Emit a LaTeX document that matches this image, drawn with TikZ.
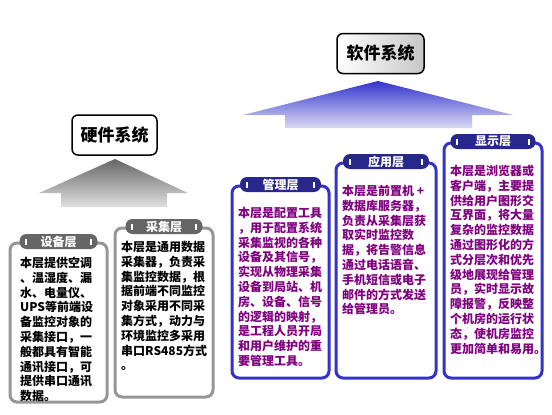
\documentclass[tikz,border=0pt]{standalone}
\usepackage{fontspec}
\newfontfamily\cjk{Noto Sans CJK SC}
\definecolor{hwgrey}{RGB}{150,150,150}
\definecolor{swblue}{RGB}{51,51,204}
\definecolor{tabblue}{RGB}{40,40,140}
\definecolor{txtpurple}{RGB}{128,0,128}
\begin{document}
\begin{tikzpicture}[x=1pt, y=-1pt,
    title/.style={draw, line width=1.5pt, rounded corners=6pt, minimum width=85pt,
      minimum height=40pt, font=\cjk\bfseries\fontsize{17}{17}\selectfont},
    layer/.style={rounded corners=7pt, line width=3pt, fill=white},
    hwlayer/.style={layer, draw=hwgrey},
    swlayer/.style={layer, draw=swblue},
    tab/.style={rounded corners=7pt, minimum height=15pt, inner sep=0pt, text=white,
      font=\cjk\bfseries\fontsize{12}{12}\selectfont},
    hwtab/.style={tab, fill=black!60},
    swtab/.style={tab, fill=tabblue},
    body/.style={anchor=north west, align=left, inner sep=0pt,
      font=\cjk\bfseries\fontsize{12}{14.8}\selectfont}]
  \useasboundingbox (0,0) rectangle (552,415);
  \shade[top color=black!60, bottom color=black!12]
    (115,159) -- (188,193) -- (167,193) -- (167,207) -- (61,207) -- (61,193) -- (39,193) -- cycle;
  \shade[top color=swblue, bottom color=swblue!18]
    (378,81) -- (513,115) -- (472,115) -- (472,128) -- (285,128) -- (285,115) -- (243,115) -- cycle;
  \node [title] (hw) at (114.5,135) {硬件系统};
  \node [title, minimum width=87pt, left color=white, right color=black!22] (sw) at (380.5,53.5) {软件系统};
  \node [hwlayer, minimum width=97pt, minimum height=159pt] (b1) at (58.5,322.5) {};
  \node [hwlayer, minimum width=98pt, minimum height=169pt] (b2) at (164,312.5) {};
  \node [swlayer, minimum width=97pt, minimum height=192pt] (b3) at (280.5,282) {};
  \node [swlayer, minimum width=100pt, minimum height=215pt] (b4) at (386,270.5) {};
  \node [swlayer, minimum width=98pt, minimum height=235pt] (b5) at (493,260.5) {};
  \node [hwtab, minimum width=78pt] (t1) at (b1.north) {设备层};
  \node [hwtab, minimum width=77pt] (t2) at (b2.north) {采集层};
  \node [swtab, minimum width=81pt] (t3) at (b3.north) {管理层};
  \node [swtab, minimum width=86pt] (t4) at (b4.north) {应用层};
  \node [swtab, minimum width=85pt] (t5) at (b5.north) {显示层};
  \foreach \t in {t1,t2,t3,t4,t5} {
    \fill[white] ([shift={(6,-3)}]\t.west) rectangle +(2,6);
    \fill[white] ([shift={(-8,-3)}]\t.east) rectangle +(2,6);
  }
  \node [body] (x1) at (20,257) {本层提供空调\\、温湿度、漏\\水、电量仪、\\UPS等前端设\\备监控对象的\\采集接口，一\\般都具有智能\\通讯接口，可\\提供串口通讯\\数据。};
  \node [body] (x2) at (121,241) {本层是通用数据\\采集器，负责采\\集监控数据，根\\据前端不同监控\\对象采用不同采\\集方式，动力与\\环境监控多采用\\串口RS485方式\\。};
  \node [body, text=txtpurple] (x3) at (238,207) {本层是配置工具\\，用于配置系统\\采集监视的各种\\设备及其信号，\\实现从物理采集\\设备到局站、机\\房、设备、信号\\的逻辑的映射，\\是工程人员开局\\和用户维护的重\\要管理工具。};
  \node [body, text=txtpurple] (x4) at (342,185) {本层是前置机 +\\数据库服务器，\\负责从采集层获\\取实时监控数\\据，将告警信息\\通过电话语音、\\手机短信或电子\\邮件的方式发送\\给管理员。};
  \node [body, text=txtpurple] (x5) at (450,165) {本层是浏览器或\\客户端，主要提\\供给用户图形交\\互界面，将大量\\复杂的监控数据\\通过图形化的方\\式分层次和优先\\级地展现给管理\\员，实时显示故\\障报警，反映整\\个机房的运行状\\态，使机房监控\\更加简单和易用。};
\end{tikzpicture}
\end{document}
